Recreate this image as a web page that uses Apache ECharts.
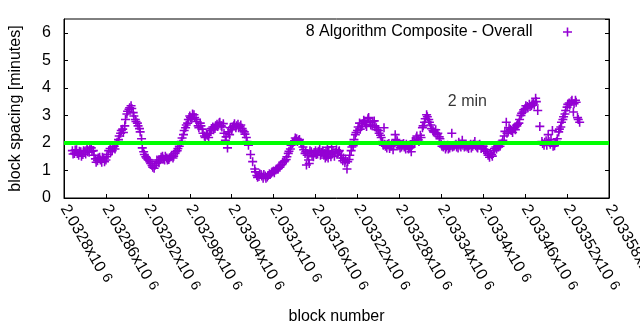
<!DOCTYPE html>
<html>
<head>
<meta charset="utf-8">
<script src="https://cdn.jsdelivr.net/npm/echarts@6/dist/echarts.min.js"></script>
<style>
  html, body { margin: 0; padding: 0; background: #fff; }
  #chart { width: 640px; height: 330px; }
</style>
</head>
<body>
<div id="chart"></div>
<script>
// Block spacing (minutes) per block number, 8 algorithm composite
const blockSpacing = [
[2032812,1.72],[2032815,1.62],[2032818,1.75],[2032821,1.55],[2032824,1.68],[2032827,1.58],[2032830,1.70],[2032833,1.78],[2032836,1.66],[2032839,1.82],[2032842,1.72],[2032845,1.42],[2032848,1.35],[2032851,1.48],[2032854,1.30],[2032857,1.45],[2032860,1.38],[2032863,1.58],[2032866,1.80],[2032869,1.72],[2032872,1.88],[2032875,1.95],[2032878,2.12],[2032881,2.35],[2032884,2.50],[2032887,2.62],[2032890,3.05],[2032893,3.22],[2032896,3.35],[2032899,3.10],
[2032902,2.85],[2032905,2.72],[2032908,2.52],[2032911,2.15],[2032914,1.68],[2032917,1.50],[2032920,1.40],[2032923,1.32],[2032926,1.18],[2032929,1.08],[2032932,1.25],[2032935,1.32],[2032938,1.40],[2032941,1.52],[2032944,1.38],[2032947,1.45],[2032950,1.40],[2032953,1.50],[2032956,1.45],[2032959,1.62],[2032962,1.72],[2032965,1.88],[2032968,2.05],[2032971,2.30],[2032974,2.55],[2032977,2.72],[2032980,2.98],[2032983,2.90],[2032986,3.02],[2032989,2.85],[2032992,2.62],[2032995,2.72],[2032998,2.50],
[2033001,2.25],[2033004,2.32],[2033007,2.20],[2033010,2.45],[2033013,2.58],[2033016,2.52],[2033019,2.68],[2033022,2.72],[2033025,2.62],[2033028,2.70],[2033031,2.10],[2033034,1.82],[2033037,2.30],[2033040,2.48],[2033043,2.62],[2033046,2.55],[2033049,2.68],[2033052,2.60],[2033055,2.52],[2033058,2.40],[2033061,2.20],[2033064,1.92],[2033067,1.58],[2033070,1.32],[2033073,1.05],[2033076,0.82],[2033079,0.78],[2033082,0.85],[2033085,0.72],[2033088,0.80],[2033091,0.76],[2033094,0.88],[2033097,0.92],
[2033100,0.98],[2033103,1.02],[2033106,1.05],[2033109,1.12],[2033112,1.22],[2033115,1.32],[2033118,1.40],[2033121,1.62],[2033124,1.78],[2033127,1.98],[2033130,2.08],[2033133,2.15],[2033136,2.10],[2033139,2.02],[2033142,1.85],[2033145,1.62],[2033148,1.55],[2033151,1.25],[2033154,1.68],[2033157,1.50],[2033160,1.72],[2033163,1.60],[2033166,1.78],[2033169,1.65],[2033172,1.55],[2033175,1.70],[2033178,1.45],[2033181,1.58],[2033184,1.62],[2033187,1.52],[2033190,1.75],[2033193,1.68],[2033196,1.45],[2033199,1.35],
[2033202,1.28],[2033205,1.05],[2033208,1.40],[2033211,1.72],[2033214,1.90],[2033217,2.30],[2033220,2.45],[2033223,2.72],[2033226,2.60],[2033229,2.82],[2033232,2.68],[2033235,2.88],[2033238,2.75],[2033241,2.62],[2033244,2.80],[2033247,2.55],[2033250,2.45],[2033253,2.28],[2033256,2.05],[2033259,1.95],[2033262,1.82],[2033265,1.98],[2033268,1.88],[2033271,1.75],[2033274,2.30],[2033277,2.08],[2033280,1.92],[2033283,1.85],[2033286,1.98],[2033289,1.78],[2033292,1.90],[2033295,1.82],[2033298,1.95],
[2033301,2.08],[2033304,2.18],[2033307,2.12],[2033310,2.28],[2033313,2.55],[2033316,2.75],[2033319,3.02],[2033322,2.85],[2033325,2.65],[2033328,2.45],[2033331,2.38],[2033334,2.30],[2033337,2.22],[2033340,1.95],[2033343,1.85],[2033346,1.78],[2033349,1.92],[2033352,1.82],[2033355,2.35],[2033358,1.88],[2033361,1.95],[2033364,1.82],[2033367,1.90],[2033370,2.10],[2033373,1.85],[2033376,1.92],[2033379,1.80],[2033382,1.95],[2033385,1.88],[2033388,2.05],[2033391,1.85],[2033394,1.92],[2033397,1.80],
[2033400,1.88],[2033403,1.70],[2033406,1.62],[2033409,1.48],[2033412,1.58],[2033415,1.72],[2033418,1.85],[2033421,1.92],[2033424,1.88],[2033427,2.00],[2033430,2.25],[2033433,2.75],[2033436,2.42],[2033439,2.50],[2033442,2.38],[2033445,2.55],[2033448,2.62],[2033451,2.72],[2033454,3.00],[2033457,3.12],[2033460,3.25],[2033463,3.32],[2033466,3.40],[2033469,3.35],[2033472,3.45],[2033475,3.62],[2033478,3.18],[2033481,2.60],[2033484,2.05],[2033487,1.92],[2033490,2.08],[2033493,2.30],[2033496,1.95],[2033499,2.45],
[2033502,1.90],[2033505,2.05],[2033508,2.40],[2033511,2.58],[2033514,2.85],[2033517,3.05],[2033520,3.30],[2033523,3.45],[2033526,3.50],[2033529,3.12],[2033532,3.55],[2033535,2.92],[2033538,2.75],
[2032813,1.60],[2032816,1.74],[2032819,1.62],[2032822,1.70],[2032825,1.52],[2032828,1.72],[2032831,1.60],[2032834,1.68],[2032837,1.85],[2032840,1.70],[2032843,1.55],[2032846,1.30],[2032849,1.45],[2032852,1.38],[2032855,1.48],[2032858,1.32],[2032861,1.50],[2032864,1.72],[2032867,1.68],[2032870,1.85],[2032873,1.78],[2032876,2.02],[2032879,2.25],[2032882,2.45],[2032885,2.38],[2032888,2.85],[2032891,3.15],[2032894,3.28],[2032897,3.25],
[2032900,2.98],[2032903,2.78],[2032906,2.62],[2032909,2.40],[2032912,1.82],[2032915,1.58],[2032918,1.45],[2032921,1.38],[2032924,1.25],[2032927,1.12],[2032930,1.18],[2032933,1.38],[2032936,1.28],[2032939,1.48],[2032942,1.42],[2032945,1.52],[2032948,1.38],[2032951,1.46],[2032954,1.55],[2032957,1.52],[2032960,1.68],[2032963,1.80],[2032966,1.95],[2032969,2.18],[2032972,2.45],[2032975,2.65],[2032978,2.85],[2032981,2.92],[2032984,3.05],[2032987,2.92],[2032990,2.78],[2032993,2.55],[2032996,2.62],[2032999,2.35],
[2033002,2.20],[2033005,2.28],[2033008,2.35],[2033011,2.52],[2033014,2.48],[2033017,2.62],[2033020,2.60],[2033023,2.75],[2033026,2.58],[2033029,2.35],[2033032,2.22],[2033035,2.40],[2033038,2.55],[2033041,2.58],[2033044,2.70],[2033047,2.62],[2033050,2.55],[2033053,2.65],[2033056,2.45],[2033059,2.32],[2033062,2.05],[2033074,0.95],[2033077,0.75],[2033080,0.88],[2033083,0.80],[2033086,0.85],[2033089,0.72],[2033092,0.82],[2033095,0.85],[2033098,0.95],
[2033101,0.92],[2033104,1.05],[2033107,1.10],[2033110,1.18],[2033113,1.30],[2033116,1.35],[2033119,1.50],[2033122,1.70],[2033125,1.92],[2033128,2.02],[2033131,2.18],[2033134,2.05],[2033137,2.12],[2033140,1.95],[2033143,1.75],[2033146,1.68],[2033149,1.62],[2033152,1.72],[2033155,1.55],[2033158,1.65],[2033161,1.58],[2033164,1.70],[2033167,1.55],[2033170,1.72],[2033173,1.62],[2033176,1.52],[2033179,1.65],[2033182,1.50],[2033185,1.70],[2033188,1.65],[2033191,1.62],[2033194,1.72],[2033197,1.55],
[2033200,1.45],[2033203,1.38],[2033206,1.32],[2033209,1.55],[2033212,1.85],[2033215,2.12],[2033218,2.38],[2033221,2.58],[2033224,2.50],[2033227,2.70],[2033230,2.78],[2033233,2.60],[2033236,2.92],[2033239,2.65],[2033242,2.78],[2033245,2.62],[2033248,2.48],[2033251,2.35],[2033254,2.20],[2033257,1.92],[2033260,1.88],[2033263,1.95],[2033266,1.80],[2033269,1.95],[2033272,1.92],[2033275,2.12],[2033278,1.90],[2033281,1.82],[2033284,1.95],[2033287,1.85],[2033290,1.95],[2033293,1.78],[2033296,1.88],[2033299,2.05],
[2033302,1.98],[2033305,2.25],[2033308,2.05],[2033311,2.20],[2033314,2.62],[2033317,2.88],[2033320,2.95],[2033323,2.75],[2033326,2.52],[2033329,2.40],[2033332,2.48],[2033335,2.35],[2033338,2.15],[2033341,1.88],[2033344,1.92],[2033347,1.85],[2033350,1.78],[2033353,1.90],[2033356,1.85],[2033359,1.92],[2033362,1.85],[2033365,2.02],[2033368,1.85],[2033371,1.92],[2033374,1.88],[2033377,1.85],[2033380,1.92],[2033383,1.82],[2033386,1.95],[2033389,1.90],[2033392,1.82],[2033395,1.95],[2033398,1.85],
[2033401,1.78],[2033404,1.75],[2033407,1.55],[2033410,1.62],[2033413,1.52],[2033416,1.80],[2033419,1.78],[2033422,1.85],[2033425,1.95],[2033428,2.10],[2033431,2.42],[2033434,2.35],[2033437,2.55],[2033440,2.45],[2033443,2.52],[2033446,2.48],[2033449,2.68],[2033452,2.85],[2033455,3.08],[2033458,3.20],[2033461,3.35],[2033464,3.28],[2033467,3.32],[2033470,3.42],[2033473,3.38],[2033476,3.50],[2033485,1.98],[2033488,2.02],[2033491,1.92],[2033494,2.05],[2033497,2.12],
[2033500,1.88],[2033503,2.00],[2033506,2.15],[2033509,2.50],[2033512,2.75],[2033515,2.95],[2033518,3.18],[2033521,3.40],[2033524,3.38],[2033527,3.55],[2033530,3.42],[2033533,3.48],[2033536,2.85],
[2033147,1.20],[2033150,1.38],[2033174,1.45],[2033177,1.84],[2033183,1.86],[2033258,2.55],[2033297,1.68]
];

// Target spacing reference line
const targetMinutes = 2;
const targetLabel = '2 min';
const targetLabelAt = [2033350, 3.5];

// Axis ranges and tick labels
const xMin = 2032800, xMax = 2033580, xStep = 60;
const yMin = 0, yMax = 6.5, yStep = 1;
const xTickLabels = ['2.0328', '2.03286', '2.03292', '2.03298', '2.03304', '2.0331', '2.03316',
  '2.03322', '2.03328', '2.03334', '2.0334', '2.03346', '2.03352', '2.03358'];

const seriesName = '8 Algorithm Composite - Overall';
const FONT = '"Liberation Sans", Arial, sans-serif';
const PURPLE = '#9400d3';
const PLUS = 'path://M4,0h1.7v4h4v1.7h-4v4h-1.7v-4h-4v-1.7h4z';

const chart = echarts.init(document.getElementById('chart'), null, { renderer: 'canvas' });

chart.setOption({
  animation: false,
  backgroundColor: '#fff',
  textStyle: { fontFamily: FONT, color: '#000' },
  grid: {
    left: 64, right: 31, top: 19, bottom: 132,
    outerBoundsMode: 'none', containLabel: false,
    show: true, borderColor: '#000', borderWidth: 1
  },
  legend: {
    right: 68, top: 24, padding: 0,
    align: 'right',
    itemWidth: 60, itemHeight: 9,
    data: [seriesName],
    textStyle: { fontFamily: FONT, fontSize: 16, color: '#000' }
  },
  xAxis: {
    type: 'value', min: xMin, max: xMax, interval: xStep,
    name: 'block number', nameLocation: 'middle', nameGap: 111,
    nameTextStyle: { fontFamily: FONT, fontSize: 16, color: '#000' },
    splitLine: { show: false },
    axisLine: { show: true, lineStyle: { color: '#000', width: 1 } },
    axisTick: { show: true, inside: true, length: 4, lineStyle: { color: '#000' } },
    axisLabel: {
      rotate: -60, margin: 8, color: '#000', fontFamily: FONT, fontSize: 16,
      showMinLabel: true, showMaxLabel: true,
      formatter: function (v) {
        const i = Math.round((v - xMin) / xStep);
        return '{m|' + xTickLabels[i] + 'x10}{s|6}';
      },
      rich: {
        m: { fontFamily: FONT, fontSize: 16, color: '#000' },
        s: { fontFamily: FONT, fontSize: 14, color: '#000', verticalAlign: 'top', padding: [0, 0, 0, 5] }
      }
    }
  },
  yAxis: [{
    type: 'value', min: yMin, max: yMax, interval: yStep,
    name: 'block spacing [minutes]', nameLocation: 'middle', nameGap: 40,
    nameTextStyle: { fontFamily: FONT, fontSize: 16, color: '#000' },
    splitLine: { show: false },
    axisLine: { show: true, lineStyle: { color: '#000', width: 1 } },
    axisTick: { show: true, inside: true, length: 4, lineStyle: { color: '#000' } },
    axisLabel: { margin: 13, color: '#000', fontFamily: FONT, fontSize: 16, showMaxLabel: false }
  }, {
    type: 'value', min: yMin, max: yMax, interval: yStep, position: 'right',
    splitLine: { show: false },
    axisLine: { show: true, lineStyle: { color: '#000', width: 1 } },
    axisTick: { show: true, inside: true, length: 4, lineStyle: { color: '#000' } },
    axisLabel: { show: false }
  }],
  series: [{
    name: seriesName,
    type: 'scatter',
    data: blockSpacing,
    symbol: PLUS,
    symbolSize: 9,
    itemStyle: { color: PURPLE, opacity: 1 },
    z: 2
  }, {
    name: 'target',
    type: 'line',
    data: [[xMin, targetMinutes], [xMax, targetMinutes]],
    showSymbol: false,
    symbol: 'none',
    lineStyle: { color: '#00ff00', width: 4 },
    z: 3
  }, {
    name: 'targetLabel',
    type: 'scatter',
    data: [targetLabelAt],
    symbolSize: 1,
    itemStyle: { color: 'rgba(0,0,0,0)' },
    label: {
      show: true, formatter: targetLabel, position: [0, 0],
      align: 'left', verticalAlign: 'middle',
      fontFamily: FONT, fontSize: 16, color: '#000'
    },
    z: 4
  }]
});
</script>
</body>
</html>
